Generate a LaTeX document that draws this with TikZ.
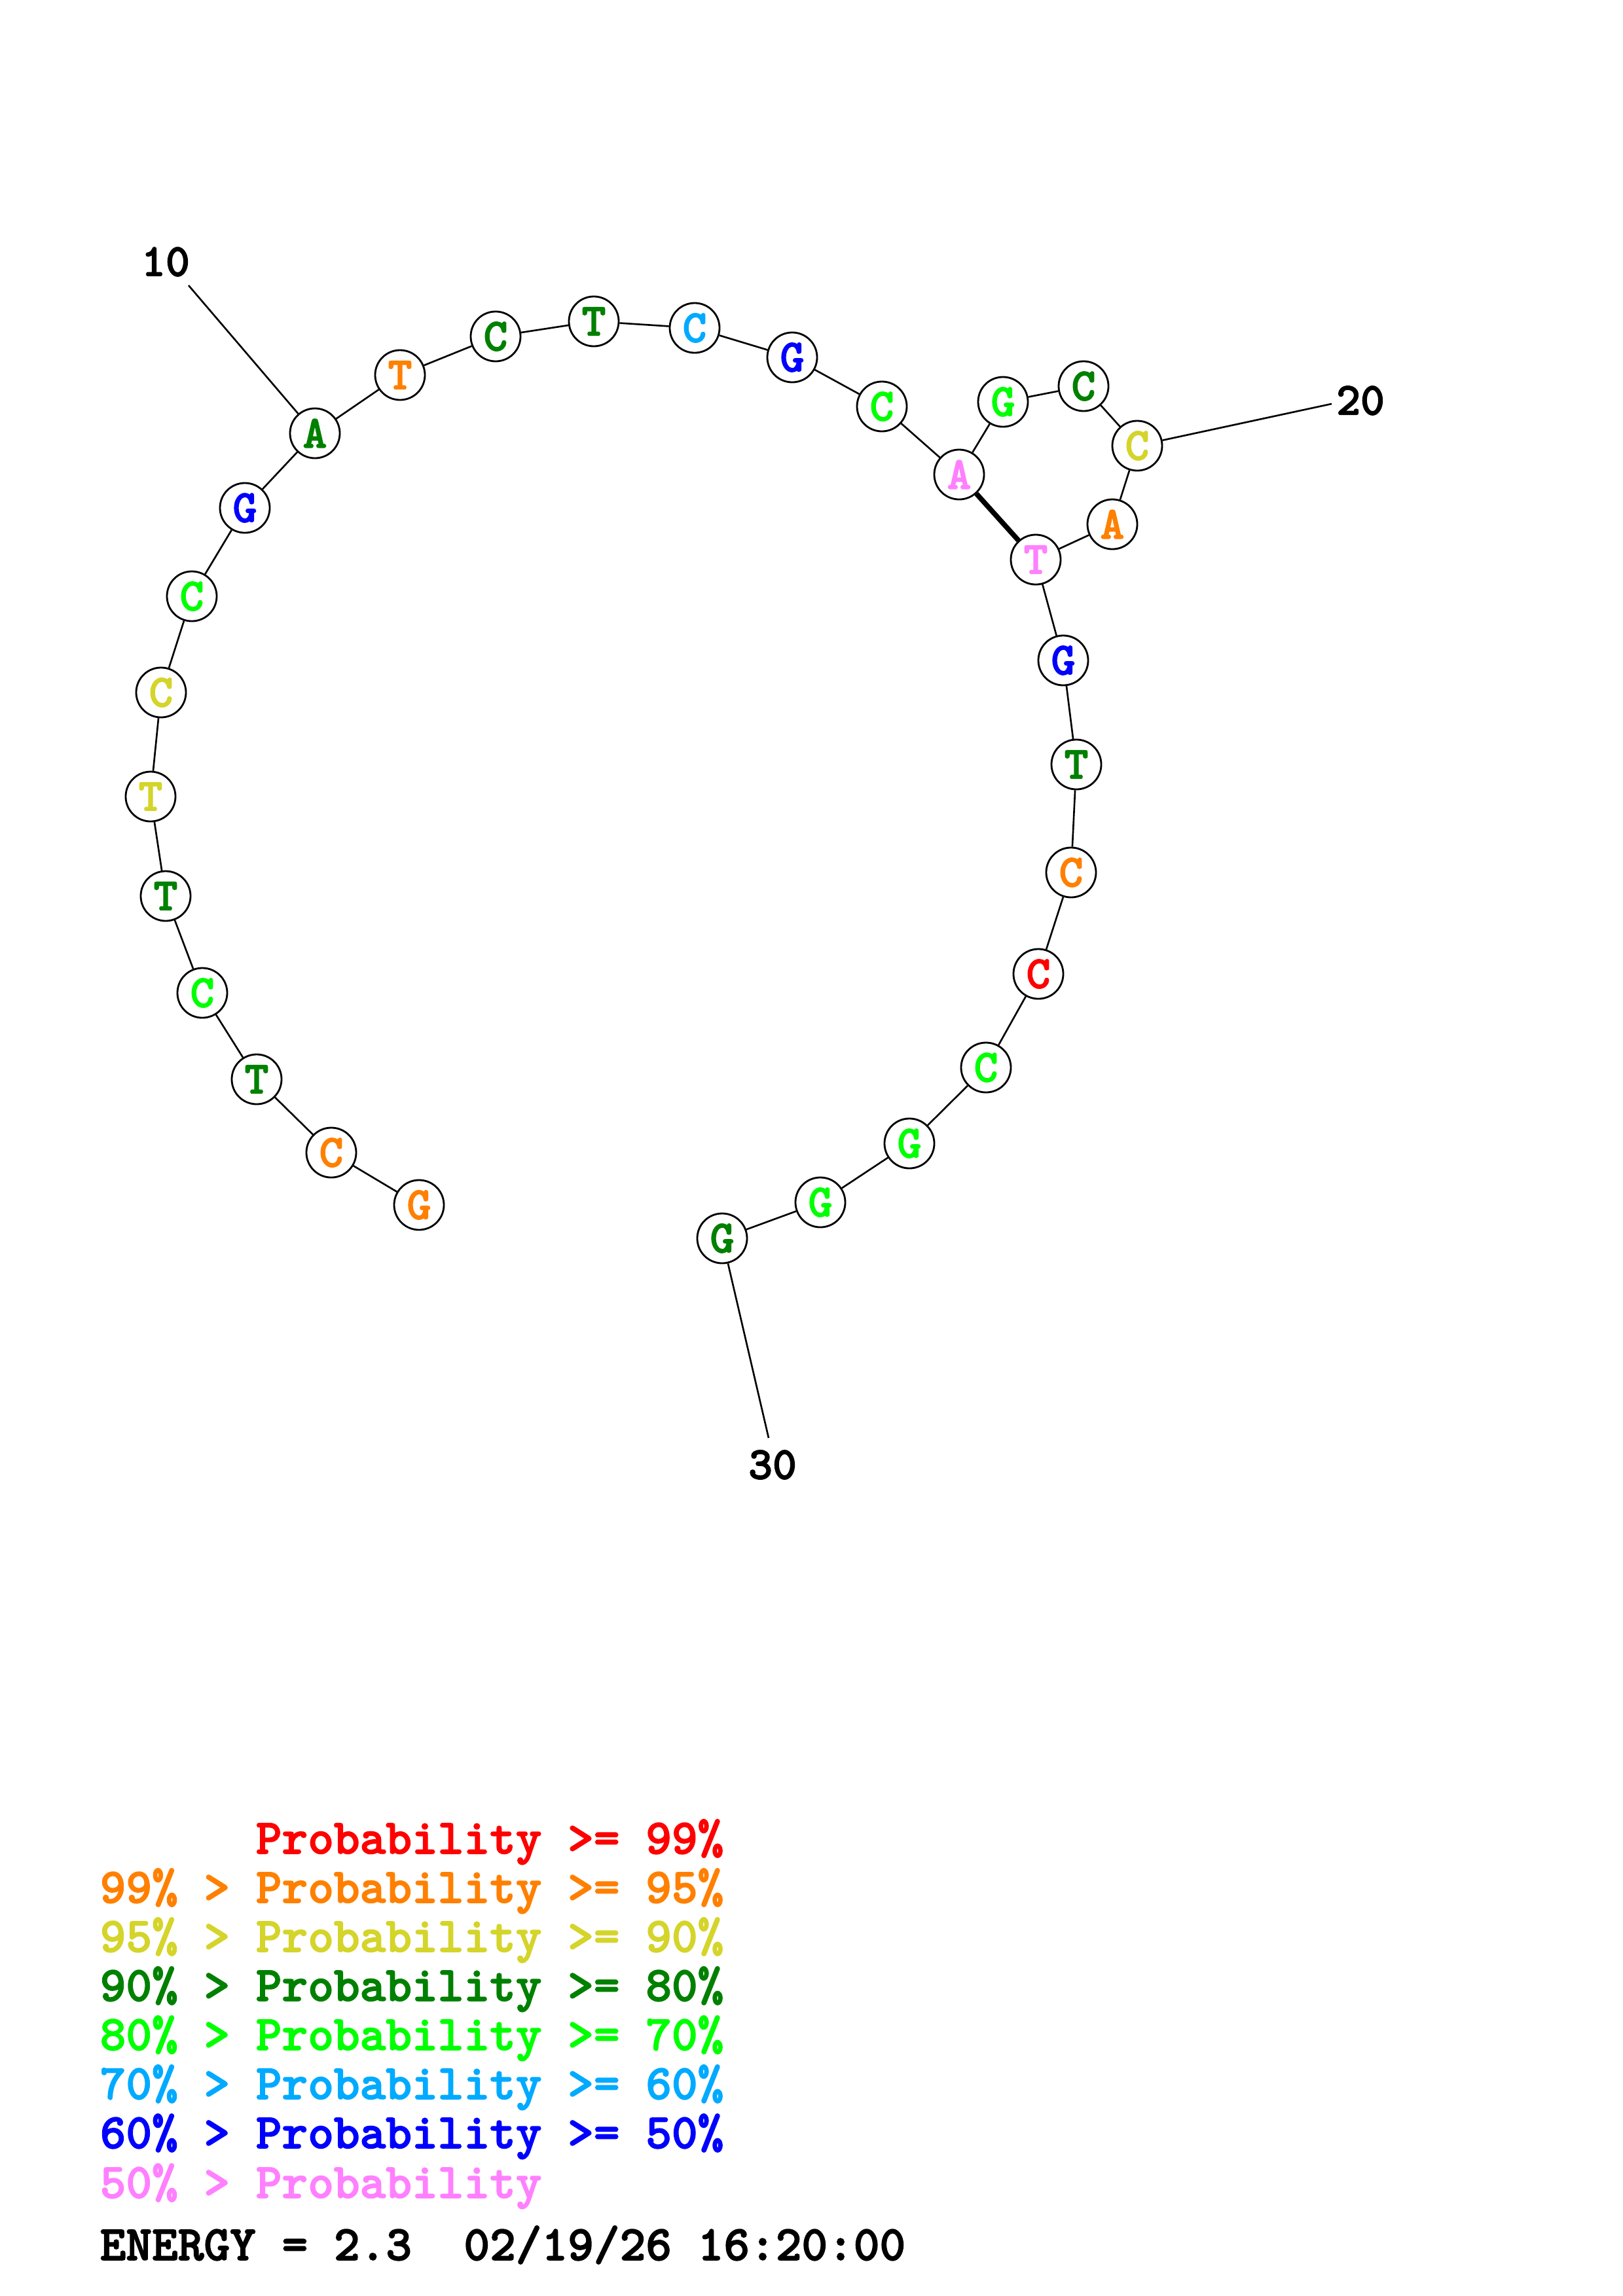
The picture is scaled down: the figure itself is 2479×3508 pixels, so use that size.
\documentclass[tikz,border=0pt]{standalone}
\usepackage{fontspec}
\newfontfamily\seqfont{lmmonolt10-bold.otf}[AutoFakeBold=2]

\definecolor{pRed}{RGB}{255,0,0}
\definecolor{pOrange}{RGB}{255,128,0}
\definecolor{pYellow}{RGB}{212,212,42}
\definecolor{pDkGreen}{RGB}{0,128,0}
\definecolor{pGreen}{RGB}{0,255,0}
\definecolor{pSky}{RGB}{0,170,255}
\definecolor{pBlue}{RGB}{0,0,255}
\definecolor{pPink}{RGB}{255,128,255}

\begin{document}
\begin{tikzpicture}[x=0.01cm,y=-0.01cm]
            \tikzstyle{base}=[circle,draw=black,line width=0.8pt,minimum size=0.76cm,inner sep=0pt,font=\fontsize{20}{20}\selectfont\seqfont\bfseries]
            \tikzstyle{bond}=[black,line width=0.75pt]
            \tikzstyle{pairbond}=[black,line width=2.2pt]
            \tikzstyle{numlbl}=[inner sep=0pt,font=\fontsize{20}{20}\selectfont\seqfont\bfseries]
            \tikzstyle{legend}=[anchor=base west,inner sep=0pt,font=\fontsize{21.5}{21.5}\selectfont\seqfont\bfseries]
            \useasboundingbox (0,0) rectangle (2479,3508);
            % bases
            \node [base,text=pOrange] (n1) at (640,1841) {G};
            \node [base,text=pOrange] (n2) at (506,1761) {C};
            \node [base,text=pDkGreen] (n3) at (392,1649) {T};
            \node [base,text=pGreen] (n4) at (309,1517) {C};
            \node [base,text=pDkGreen] (n5) at (253,1369) {T};
            \node [base,text=pYellow] (n6) at (230,1217) {T};
            \node [base,text=pYellow] (n7) at (246,1058) {C};
            \node [base,text=pGreen] (n8) at (293,911) {C};
            \node [base,text=pBlue] (n9) at (374,776) {G};
            \node [base,text=pDkGreen] (n10) at (481,662) {A};
            \node [base,text=pOrange] (n11) at (611,573) {T};
            \node [base,text=pDkGreen] (n12) at (757,514) {C};
            \node [base,text=pDkGreen] (n13) at (907,491) {T};
            \node [base,text=pSky] (n14) at (1061,501) {C};
            \node [base,text=pBlue] (n15) at (1210,546) {G};
            \node [base,text=pGreen] (n16) at (1347,621) {C};
            \node [base,text=pPink] (n17) at (1465,725) {A};
            \node [base,text=pGreen] (n18) at (1532,614) {G};
            \node [base,text=pDkGreen] (n19) at (1655,590) {C};
            \node [base,text=pYellow] (n20) at (1737,681) {C};
            \node [base,text=pOrange] (n21) at (1699,801) {A};
            \node [base,text=pPink] (n22) at (1582,855) {T};
            \node [base,text=pBlue] (n23) at (1624,1009) {G};
            \node [base,text=pDkGreen] (n24) at (1644,1168) {T};
            \node [base,text=pOrange] (n25) at (1636,1333) {C};
            \node [base,text=pRed] (n26) at (1586,1488) {C};
            \node [base,text=pGreen] (n27) at (1506,1631) {C};
            \node [base,text=pGreen] (n28) at (1389,1747) {G};
            \node [base,text=pGreen] (n29) at (1253,1837) {G};
            \node [base,text=pDkGreen] (n30) at (1103,1892) {G};
            % backbone
            \draw [bond] (n1) -- (n2);
            \draw [bond] (n2) -- (n3);
            \draw [bond] (n3) -- (n4);
            \draw [bond] (n4) -- (n5);
            \draw [bond] (n5) -- (n6);
            \draw [bond] (n6) -- (n7);
            \draw [bond] (n7) -- (n8);
            \draw [bond] (n8) -- (n9);
            \draw [bond] (n9) -- (n10);
            \draw [bond] (n10) -- (n11);
            \draw [bond] (n11) -- (n12);
            \draw [bond] (n12) -- (n13);
            \draw [bond] (n13) -- (n14);
            \draw [bond] (n14) -- (n15);
            \draw [bond] (n15) -- (n16);
            \draw [bond] (n16) -- (n17);
            \draw [bond] (n17) -- (n18);
            \draw [bond] (n18) -- (n19);
            \draw [bond] (n19) -- (n20);
            \draw [bond] (n20) -- (n21);
            \draw [bond] (n21) -- (n22);
            \draw [bond] (n22) -- (n23);
            \draw [bond] (n23) -- (n24);
            \draw [bond] (n24) -- (n25);
            \draw [bond] (n25) -- (n26);
            \draw [bond] (n26) -- (n27);
            \draw [bond] (n27) -- (n28);
            \draw [bond] (n28) -- (n29);
            \draw [bond] (n29) -- (n30);
            % pair
            \draw [pairbond] (n17) -- (n22);
            % numbering
            \node [numlbl] (l10) at (253,400) {10};
            \coordinate (t10) at (288,436);
            \draw [bond] (n10) -- (t10);
            \node [numlbl] (l20) at (2078,612) {20};
            \coordinate (t20) at (2034,617);
            \draw [bond] (n20) -- (t20);
            \node [numlbl] (l30) at (1180,2238) {30};
            \coordinate (t30) at (1174,2197);
            \draw [bond] (n30) -- (t30);
            % legend
            \node [legend,text=pRed] (k1) at (152,2832) {\hphantom{99\% > }Probability >= 99\%};
            \node [legend,text=pOrange] (k2) at (152,2907) {99\% > Probability >= 95\%};
            \node [legend,text=pYellow] (k3) at (152,2982) {95\% > Probability >= 90\%};
            \node [legend,text=pDkGreen] (k4) at (152,3057) {90\% > Probability >= 80\%};
            \node [legend,text=pGreen] (k5) at (152,3132) {80\% > Probability >= 70\%};
            \node [legend,text=pSky] (k6) at (152,3207) {70\% > Probability >= 60\%};
            \node [legend,text=pBlue] (k7) at (152,3282) {60\% > Probability >= 50\%};
            \node [legend,text=pPink] (k8) at (152,3358) {50\% > Probability};
            \node [legend,text=black] (energy) at (152,3453) {ENERGY = 2.3\ \ 02/19/26 16:20:00};
\end{tikzpicture}
\end{document}
